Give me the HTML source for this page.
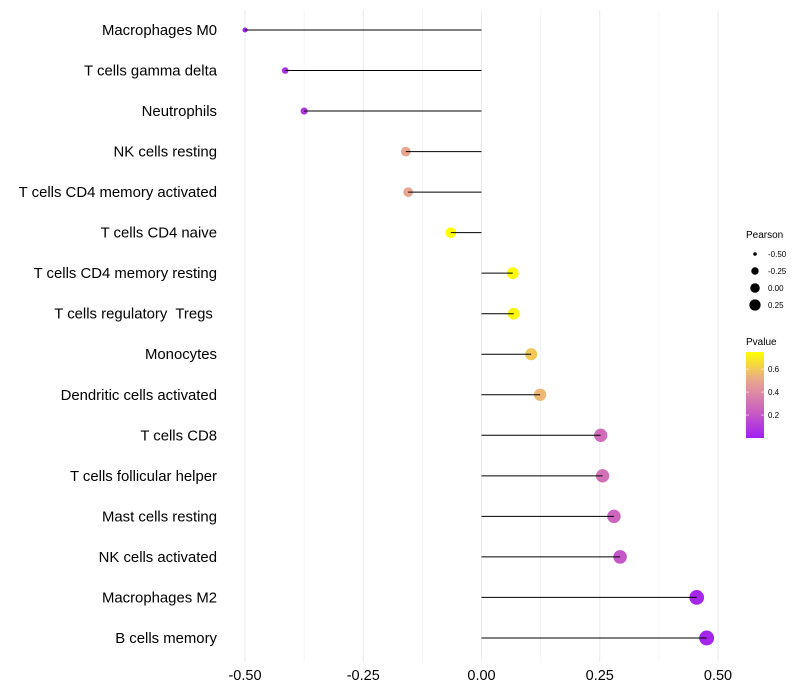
<!DOCTYPE html>
<html><head><meta charset="utf-8"><style>
body{margin:0;background:#fff;font-family:"Liberation Sans",sans-serif}
svg{display:block}
</style></head><body>
<svg id="chart" width="800" height="700"></svg>
<script>
const categories=["Macrophages M0","T cells gamma delta","Neutrophils","NK cells resting","T cells CD4 memory activated","T cells CD4 naive","T cells CD4 memory resting","T cells regulatory  Tregs ","Monocytes","Dendritic cells activated","T cells CD8","T cells follicular helper","Mast cells resting","NK cells activated","Macrophages M2","B cells memory"];
const pearson=[-0.50,-0.415,-0.375,-0.16,-0.155,-0.065,0.066,0.068,0.105,0.124,0.252,0.256,0.28,0.293,0.455,0.476];
const pvalues=[0.01,0.05,0.08,0.5,0.5,0.75,0.74,0.72,0.6,0.55,0.28,0.3,0.25,0.2,0.03,0.02];
const xTicks=[-0.5,-0.25,0,0.25,0.5];
const xTickLabels=["-0.50","-0.25","0.00","0.25","0.50"];
const sizeLegend=[-0.5,-0.25,0,0.25];
const sizeLegendLabels=["-0.50","-0.25","0.00","0.25"];
const colorLegend=[0.2,0.4,0.6];

const NS="http://www.w3.org/2000/svg";
const svg=document.getElementById('chart');
function el(t,a,p){const e=document.createElementNS(NS,t);for(const k in a)e.setAttribute(k,a[k]);(p||svg).appendChild(e);return e;}
const X=v=>481.5+v*473;
const Y=i=>30+i*40.53;
const R=v=>Math.sqrt(Math.max(1,6.5+(v+0.5)*50));
function lerp(a,b,t){return a.map((x,i)=>Math.round(x+(b[i]-x)*t));}
function col(p){const t=Math.max(0,Math.min(1,p/0.75));const s=[[160,32,240],[205,100,190],[232,165,145],[255,255,0]];const f=t*3;const i=Math.min(2,Math.floor(f));const c=lerp(s[i],s[i+1],f-i);return `rgb(${c[0]},${c[1]},${c[2]})`;}

for(let v=-0.5;v<=0.5001;v+=0.125){const g=el('line',{x1:X(v),x2:X(v),y1:10,y2:662,stroke:'#ebebeb','stroke-width':Math.abs((v*4)%1)<0.01?1:0.5});

}
xTicks.forEach((v,i)=>{const t=el('text',{x:X(v),y:680,'text-anchor':'middle','font-size':14.5,fill:'#000'});t.textContent=xTickLabels[i];

});
categories.forEach((c,i)=>{
const t=el('text',{x:217,y:Y(i)+5,'text-anchor':'end','font-size':14.9,fill:'#000'});t.setAttribute('xml:space','preserve');t.style.whiteSpace='pre';t.textContent=c;


const d=el('circle',{cx:X(pearson[i]),cy:Y(i),r:R(pearson[i]),fill:col(pvalues[i])});


const l=el('line',{x1:X(0),x2:X(pearson[i]),y1:Y(i),y2:Y(i),stroke:'#000','stroke-width':1});


});
let tt=el('text',{x:746,y:238,'font-size':10});tt.textContent='Pearson';

sizeLegend.forEach((v,i)=>{const y=254+i*17;const c=el('circle',{cx:755,cy:y,r:i==0?1.8:R(v)*0.85,fill:'#000'});

const t=el('text',{x:768,y:y+3,'font-size':8});t.textContent=sizeLegendLabels[i];
});
tt=el('text',{x:746,y:345,'font-size':10});tt.textContent='Pvalue';

const defs=el('defs',{});const lg=el('linearGradient',{id:'g',x1:0,y1:1,x2:0,y2:0},defs);
for(let k=0;k<=10;k++)el('stop',{offset:k/10,'stop-color':col(k/10*0.75)},lg);
const bar=el('rect',{x:746,y:352,width:18,height:86,fill:'url(#g)'});

const PY=p=>438-p/0.75*86;
colorLegend.forEach(v=>{el('line',{x1:746,x2:749,y1:PY(v),y2:PY(v),stroke:'#fff','stroke-opacity':0.6});el('line',{x1:761,x2:764,y1:PY(v),y2:PY(v),stroke:'#fff','stroke-opacity':0.6});
const t=el('text',{x:768,y:PY(v)+3,'font-size':8});t.textContent=v.toFixed(1);
});
</script>
</body></html>
